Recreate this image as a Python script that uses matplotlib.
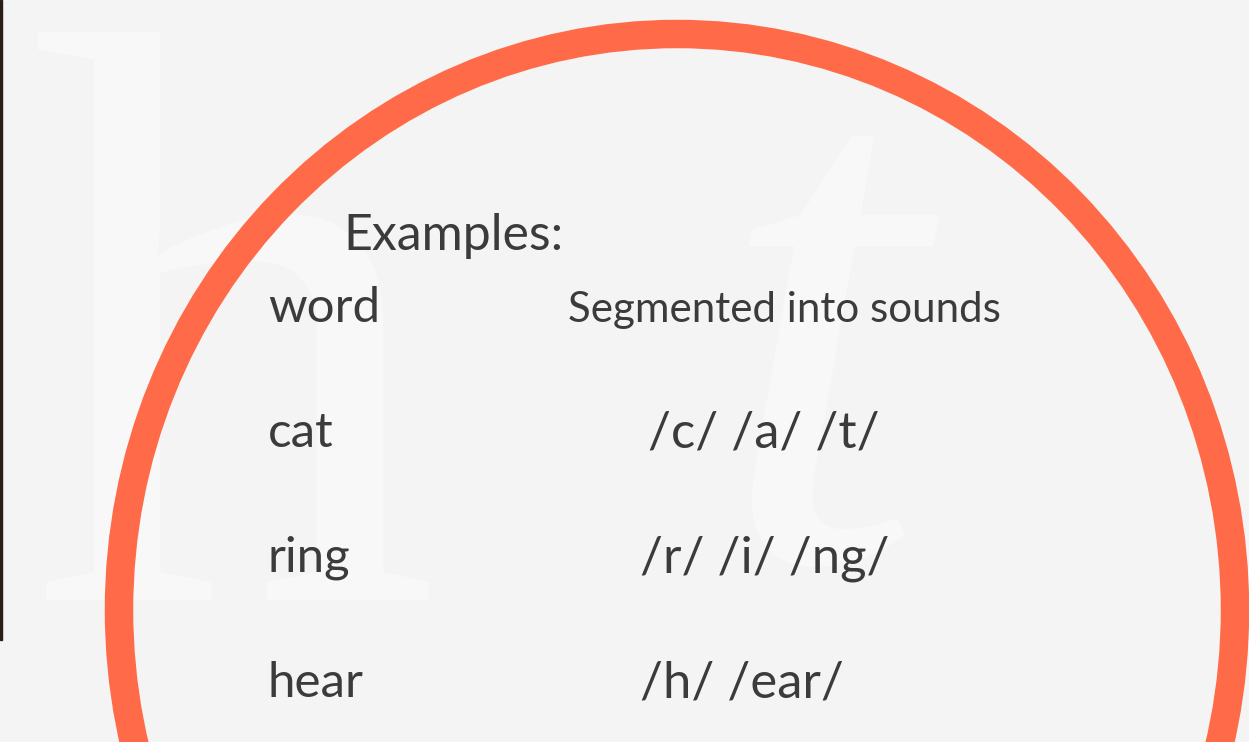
import matplotlib.pyplot as plt
from matplotlib.patches import Ellipse, Rectangle

# slide content
title = "Examples:"
header_word = "word"
header_sounds = "Segmented into sounds"
words = ["cat", "ring", "hear"]
segments = ["/c/ /a/ /t/", "/r/ /i/ /ng/", "/h/ /ear/"]

W, H = 1249, 742
bg = "#f4f4f4"
ring_color = "#ff6b48"
text_color = "#3b3b3b"

fig = plt.figure(figsize=(W / 100, H / 100), dpi=100, facecolor=bg)
ax = fig.add_axes([0, 0, 1, 1])
ax.set_xlim(0, W)
ax.set_ylim(H, 0)
ax.set_facecolor(bg)
ax.axis("off")

# faint watermark letters in the background
ax.text(30, 600, "h", fontsize=590, family="Liberation Serif",
        color="#f8f8f8", va="baseline", ha="left", zorder=0)
ax.text(715, 560, "t", fontsize=540, family="Liberation Serif",
        style="italic", color="#f8f8f8", va="baseline", ha="left", zorder=0)

# thin dark strip on the left edge
ax.add_patch(Rectangle((0, 0), 2, 640, color="#2a1d18", zorder=1))

# big orange ring
ax.add_patch(Ellipse((677, 610), 2 * 558, 2 * 576, fill=False,
                     edgecolor=ring_color, linewidth=20.5, zorder=2))

font = "Lato"
ax.text(343, 250, title, fontsize=36, family=font, color=text_color,
        va="baseline", ha="left", zorder=3)
ax.text(268, 322, header_word, fontsize=35.5, family=font, color=text_color,
        va="baseline", ha="left", zorder=3)
ax.text(568, 322, header_sounds, fontsize=30.3, family=font, color=text_color,
        va="baseline", ha="left", zorder=3)

row_y = [447, 572, 697]
seg_x = [648, 640, 640]
for w, s, y, sx in zip(words, segments, row_y, seg_x):
    ax.text(268, y, w, fontsize=35.5, family=font, color=text_color,
            va="baseline", ha="left", zorder=3)
    ax.text(sx, y, s, fontsize=36.5, family=font, color=text_color,
            va="baseline", ha="left", zorder=3)

fig.savefig("out.png", dpi=100, facecolor=bg)
